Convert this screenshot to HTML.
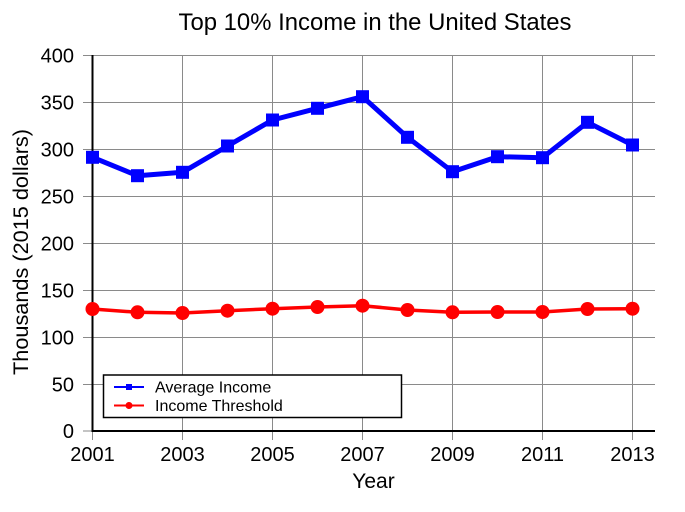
<!DOCTYPE html>
<html><head><meta charset="utf-8"><style>
html,body{margin:0;padding:0;background:#fff;}
svg{display:block;}
text{font-family:"Liberation Sans",Arial,sans-serif;fill:#000;}
</style></head><body>
<svg width="685" height="512" viewBox="0 0 685 512" xmlns="http://www.w3.org/2000/svg">
<rect width="685" height="512" fill="#fff"/>
<text x="375" y="30" font-size="24" text-anchor="middle" textLength="393" lengthAdjust="spacingAndGlyphs">Top 10% Income in the United States</text>
<g stroke="#8a8a8a" stroke-width="1">
<line x1="83" y1="55.5" x2="655" y2="55.5"/>
<line x1="83" y1="102.5" x2="655" y2="102.5"/>
<line x1="83" y1="149.5" x2="655" y2="149.5"/>
<line x1="83" y1="196.5" x2="655" y2="196.5"/>
<line x1="83" y1="243.5" x2="655" y2="243.5"/>
<line x1="83" y1="290.5" x2="655" y2="290.5"/>
<line x1="83" y1="337.5" x2="655" y2="337.5"/>
<line x1="83" y1="384.5" x2="655" y2="384.5"/>
<line x1="83" y1="431" x2="92" y2="431"/>
<line x1="182.5" y1="55" x2="182.5" y2="440"/>
<line x1="272.5" y1="55" x2="272.5" y2="440"/>
<line x1="362.5" y1="55" x2="362.5" y2="440"/>
<line x1="452.5" y1="55" x2="452.5" y2="440"/>
<line x1="542.5" y1="55" x2="542.5" y2="440"/>
<line x1="632.5" y1="55" x2="632.5" y2="440"/>
<line x1="92.5" y1="431" x2="92.5" y2="440"/>
</g>
<line x1="92.5" y1="55" x2="92.5" y2="432" stroke="#000" stroke-width="2"/>
<line x1="91.5" y1="431" x2="655" y2="431" stroke="#000" stroke-width="2"/>
<g font-size="20" text-anchor="end">
<text x="74" y="62.5">400</text>
<text x="74" y="109.5">350</text>
<text x="74" y="156.5">300</text>
<text x="74" y="203.5">250</text>
<text x="74" y="250.5">200</text>
<text x="74" y="297.5">150</text>
<text x="74" y="344.5">100</text>
<text x="74" y="391.5">50</text>
<text x="74" y="438">0</text>
</g>
<g font-size="20" text-anchor="middle">
<text x="92.5" y="461">2001</text>
<text x="182.5" y="461">2003</text>
<text x="272.5" y="461">2005</text>
<text x="362.5" y="461">2007</text>
<text x="452.5" y="461">2009</text>
<text x="542.5" y="461">2011</text>
<text x="632.5" y="461">2013</text>
</g>
<text x="373.5" y="488" font-size="21" text-anchor="middle">Year</text>
<text transform="translate(28,252) rotate(-90)" font-size="21" text-anchor="middle" textLength="246" lengthAdjust="spacingAndGlyphs">Thousands (2015 dollars)</text>
<polyline fill="none" stroke="#0000ff" stroke-width="5" stroke-linejoin="round" points="92.5,157.3 137.5,175.7 182.5,172.3 227.5,146 272.5,120 317.5,108.3 362.5,96.7 407.5,137.3 452.5,171.7 497.5,156.7 542.5,157.7 587.5,122.3 632.5,145"/>
<g fill="#0000ff">
<rect x="86" y="150.8" width="13" height="13"/>
<rect x="131" y="169.2" width="13" height="13"/>
<rect x="176" y="165.8" width="13" height="13"/>
<rect x="221" y="139.5" width="13" height="13"/>
<rect x="266" y="113.5" width="13" height="13"/>
<rect x="311" y="101.8" width="13" height="13"/>
<rect x="356" y="90.2" width="13" height="13"/>
<rect x="401" y="130.8" width="13" height="13"/>
<rect x="446" y="165.2" width="13" height="13"/>
<rect x="491" y="150.2" width="13" height="13"/>
<rect x="536" y="151.2" width="13" height="13"/>
<rect x="581" y="115.8" width="13" height="13"/>
<rect x="626" y="138.5" width="13" height="13"/>
</g>
<polyline fill="none" stroke="#ff0000" stroke-width="3.5" stroke-linejoin="round" points="92.5,309 137.5,312.3 182.5,313 227.5,310.7 272.5,308.7 317.5,307 362.5,305.7 407.5,310 452.5,312.3 497.5,312 542.5,312 587.5,309 632.5,308.7"/>
<g fill="#ff0000">
<circle cx="92.5" cy="309" r="7"/>
<circle cx="137.5" cy="312.3" r="7"/>
<circle cx="182.5" cy="313" r="7"/>
<circle cx="227.5" cy="310.7" r="7"/>
<circle cx="272.5" cy="308.7" r="7"/>
<circle cx="317.5" cy="307" r="7"/>
<circle cx="362.5" cy="305.7" r="7"/>
<circle cx="407.5" cy="310" r="7"/>
<circle cx="452.5" cy="312.3" r="7"/>
<circle cx="497.5" cy="312" r="7"/>
<circle cx="542.5" cy="312" r="7"/>
<circle cx="587.5" cy="309" r="7"/>
<circle cx="632.5" cy="308.7" r="7"/>
</g>
<rect x="103.5" y="375" width="298" height="42.5" fill="#fff" stroke="#000" stroke-width="1.5"/>
<line x1="114" y1="387" x2="144" y2="387" stroke="#0000ff" stroke-width="2"/>
<rect x="126" y="384" width="6" height="6" fill="#0000ff"/>
<line x1="114" y1="405.5" x2="144" y2="405.5" stroke="#ff0000" stroke-width="2"/>
<circle cx="129" cy="405.5" r="3.5" fill="#ff0000"/>
<text x="155" y="392.5" font-size="16">Average Income</text>
<text x="155" y="411" font-size="16">Income Threshold</text>
</svg>
</body></html>
